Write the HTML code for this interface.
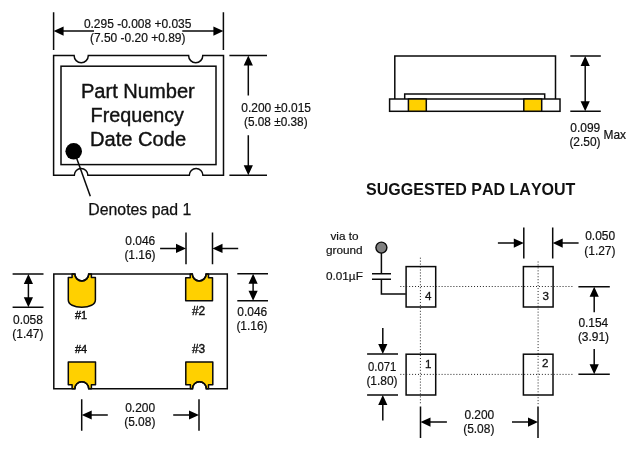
<!DOCTYPE html>
<html>
<head>
<meta charset="utf-8">
<title>Package drawing</title>
<style>
html,body{margin:0;padding:0;background:#fff;}
body{width:636px;height:449px;overflow:hidden;}
text{font-kerning:none;}
svg{display:block;font-family:"Liberation Sans",sans-serif;will-change:transform;}
.l{stroke:#0a0a0a;stroke-width:1.5;fill:none;}
.a{fill:#000;stroke:none;}
.d{stroke:#1a1a1a;stroke-width:0.95;fill:none;stroke-dasharray:1 1.95;}
.t{font-size:11.95px;fill:#111;stroke:#111;stroke-width:0.2;}
.b{font-size:19.6px;fill:#111;stroke:#111;stroke-width:0.4;}
.h{font-size:11px;fill:#111;stroke:#111;stroke-width:0.4;}
.n{font-size:11.6px;fill:#111;stroke:#111;stroke-width:0.3;}
.v{font-size:11.75px;fill:#111;stroke:#111;stroke-width:0.2;}
.pad{fill:#ffd000;stroke:#0a0a0a;stroke-width:1.5;stroke-linejoin:round;}
</style>
</head>
<body>
<svg width="636" height="449" viewBox="0 0 636 449">
<rect x="0" y="0" width="636" height="449" fill="#fff"/>

<!-- ===== TOP VIEW (top-left) ===== -->
<g id="topview">
  <!-- width dimension -->
  <path class="l" d="M53.6 12.3V49.9M223.4 12.3V49.9"/>
  <path class="l" d="M62 31.1H94M182.3 31.1H215"/>
  <path class="a" d="M53.6 31.1L63.6 26.5V35.7ZM223.4 31.1L213.4 26.5V35.7Z"/>
  <text class="t" x="83.9" y="28" textLength="107.5" lengthAdjust="spacingAndGlyphs">0.295 -0.008 +0.035</text>
  <text class="t" x="89.9" y="42.1" textLength="95.6" lengthAdjust="spacingAndGlyphs">(7.50 -0.20 +0.89)</text>
  <!-- outer outline with notches -->
  <path class="l" d="M53.6 55.6H74.1A7.1 7.1 0 0 0 88.3 55.6H188.6A7.1 7.1 0 0 0 202.8 55.6H223.5V175.3H202.9A6.8 6.8 0 0 0 189.3 175.3H87.9A6.8 6.8 0 0 0 74.3 175.3H53.6Z"/>
  <!-- inner rect -->
  <rect class="l" x="61" y="66.2" width="155" height="98.4"/>
  <!-- text -->
  <text class="b" x="80.9" y="98" textLength="113.9" lengthAdjust="spacingAndGlyphs">Part Number</text>
  <text class="b" x="90.6" y="122.4" textLength="93.4" lengthAdjust="spacingAndGlyphs">Frequency</text>
  <text class="b" x="90" y="145.7" textLength="96.2" lengthAdjust="spacingAndGlyphs">Date Code</text>
  <!-- dot + leader -->
  <path class="l" d="M75.5 155L90.3 196.2"/>
  <circle cx="73.7" cy="151.3" r="8.3" fill="#000"/>
  <text x="88.3" y="215" font-size="15.7" fill="#111" stroke="#111" stroke-width="0.25" textLength="103" lengthAdjust="spacingAndGlyphs">Denotes pad 1</text>
  <!-- height dimension -->
  <path class="l" d="M229.4 55.5H267M229.4 175.3H267"/>
  <path class="l" d="M248.3 64V95.6M248.3 135.3V167"/>
  <path class="a" d="M248.3 55.5L243.7 65.5H252.9ZM248.3 175.3L243.7 165.3H252.9Z"/>
  <text class="t" x="241.3" y="112.2">0.200 ±0.015</text>
  <text class="t" x="244" y="126.3" textLength="63.6" lengthAdjust="spacingAndGlyphs">(5.08 ±0.38)</text>
</g>

<!-- ===== SIDE VIEW (top-right) ===== -->
<g id="sideview" transform="translate(0,0.4)">
  <path class="l" d="M394.8 98.6V55.6H555.5V98.6"/>
  <path class="l" d="M404.7 98.6V93.6H544.7V98.6"/>
  <rect class="l" x="389.6" y="98.6" width="170.4" height="12.3" fill="#fff"/>
  <rect class="pad" x="408.4" y="98.6" width="17.9" height="12.3"/>
  <rect class="pad" x="523.8" y="98.6" width="17.9" height="12.3"/>
  <path class="l" d="M570.3 55.6H600.8M570.3 110.9H600.8"/>
  <path class="l" d="M585.2 64V102"/>
  <path class="a" d="M585.2 55.6L580.6 65.6H589.8ZM585.2 110.9L580.6 100.9H589.8Z"/>
  <text class="t" x="570.3" y="131.4">0.099</text>
  <text class="t" x="569.4" y="145.3">(2.50)</text>
  <text class="t" x="603.5" y="138.2">Max</text>
</g>

<text x="366.1" y="195.3" font-size="16.05" font-weight="bold" fill="#111" style="font-kerning:none">SUGGESTED PAD LAYOUT</text>

<!-- ===== BOTTOM VIEW (bottom-left) ===== -->
<g id="bottomview" transform="translate(0,0.4)">
  <!-- pads -->
  <path class="pad" d="M72.1 273.6V277.2H68.3V299.5C68.3 304 74 306.8 81.8 306.8C89.6 306.8 95.4 304 95.4 299.5V277.2H91.4V273.6H88.7A6.9 6.9 0 0 1 74.9 273.6Z"/>
  <path class="pad" d="M190.2 273.6V277.3H185.7V300.3H212.5V277.3H208.5V273.6H206.1A6.9 6.9 0 0 1 192.3 273.6Z"/>
  <path class="pad" d="M72.1 388.3V384.4H68.3V361.7H95.5V384.4H91.4V388.3H88.7A6.9 6.9 0 0 0 74.9 388.3Z"/>
  <path class="pad" d="M190.4 388.3V384.4H185.8V361.7H212.8V384.4H208.5V388.3H206.3A6.9 6.9 0 0 0 192.5 388.3Z"/>
  <!-- outline with notches -->
  <path class="l" d="M53.8 273.6H74.9A6.9 6.9 0 0 0 88.7 273.6H192.3A6.9 6.9 0 0 0 206.1 273.6H227.3V388.3H206.3A6.9 6.9 0 0 0 192.5 388.3H88.7A6.9 6.9 0 0 0 74.9 388.3H53.8Z"/>
  <text class="h" x="75" y="318.9">#1</text>
  <text class="h" x="192" y="315" style="font-size:11.9px">#2</text>
  <text class="h" x="74.9" y="353.1">#4</text>
  <text class="h" x="192" y="352.8" style="font-size:11.9px">#3</text>
  <!-- left dim 0.058 -->
  <path class="l" d="M12.6 273.6H43.5M12.6 306.8H43.5"/>
  <path class="l" d="M28.4 282V298"/>
  <path class="a" d="M28.4 273.6L23.8 283.6H33.0ZM28.4 306.8L23.8 296.8H33.0Z"/>
  <text class="t" x="13" y="323.6">0.058</text>
  <text class="t" x="12.3" y="337.4">(1.47)</text>
  <!-- top dim 0.046 -->
  <path class="l" d="M186 232.2V263.8M212.5 232.2V263.8"/>
  <path class="l" d="M160.1 248H178M221 248H238.2"/>
  <path class="a" d="M186.0 248.0L176.0 243.4V252.6ZM212.5 248.0L222.5 243.4V252.6Z"/>
  <text class="t" x="125.3" y="244.5">0.046</text>
  <text class="t" x="124.4" y="258.6">(1.16)</text>
  <!-- right dim 0.046 -->
  <path class="l" d="M237.3 273.4H268M237.3 300.3H268"/>
  <path class="l" d="M253.1 282V292"/>
  <path class="a" d="M253.1 273.4L248.5 283.4H257.7ZM253.1 300.3L248.5 290.3H257.7Z"/>
  <text class="t" x="237.3" y="315.6">0.046</text>
  <text class="t" x="236.4" y="329.7">(1.16)</text>
  <!-- bottom dim 0.200 -->
  <path class="l" d="M81.7 398.9V430.3M199 398.9V430.3"/>
  <path class="l" d="M90 414.6H107.8M173.2 414.6H191"/>
  <path class="a" d="M81.7 414.6L91.7 410.0V419.2ZM199.0 414.6L189.0 410.0V419.2Z"/>
  <text class="t" x="125.2" y="411.8">0.200</text>
  <text class="t" x="124.2" y="425.9">(5.08)</text>
</g>

<!-- ===== PAD LAYOUT (bottom-right) ===== -->
<g id="padlayout">
  <text class="v" x="330.4" y="239.6">via to</text>
  <text class="v" x="326" y="253.9">ground</text>
  <text class="v" x="326" y="279.8">0.01µF</text>
  <path class="l" d="M381.4 252V273.8M372 273.8H391M372 279.3H391M381.4 279.3V294.1H405.8"/>
  <circle cx="381.4" cy="247.6" r="5.5" fill="#808080" stroke="#0a0a0a" stroke-width="1.4"/>
  <!-- pads -->
  <rect class="l" x="406.1" y="266.6" width="29.6" height="40.4"/>
  <rect class="l" x="523.4" y="266.6" width="29.7" height="40.4"/>
  <rect class="l" x="406.1" y="354.2" width="29.6" height="40.8"/>
  <rect class="l" x="523.4" y="354.2" width="29.6" height="40.8"/>
  <text class="n" x="424.9" y="299.8">4</text>
  <text class="n" x="542.4" y="299.6">3</text>
  <text class="n" x="425" y="367.7">1</text>
  <text class="n" x="542" y="367.4">2</text>
  <!-- dotted centre lines -->
  <path class="d" d="M420.4 257.7V405M538.1 261.5V405M400.3 286.5H574.1M400.3 374.4H574.1"/>
  <!-- top dim 0.050 -->
  <path class="l" d="M523.8 227.4V258.4M552.7 227.4V258.4"/>
  <path class="l" d="M497.9 243.1H516M560 243.1H578.6"/>
  <path class="a" d="M523.8 243.1L513.8 238.5V247.7ZM552.7 243.1L562.7 238.5V247.7Z"/>
  <text class="t" x="585.2" y="240.1">0.050</text>
  <text class="t" x="584.3" y="254.7">(1.27)</text>
  <!-- right dim 0.154 -->
  <path class="l" d="M578.4 286.7H609.8M578.4 374.3H609.8"/>
  <path class="l" d="M594.2 295V312.2M594.2 349.1V366"/>
  <path class="a" d="M594.2 286.7L589.6 296.7H598.8ZM594.2 374.3L589.6 364.3H598.8Z"/>
  <text class="t" x="578.4" y="327">0.154</text>
  <text class="t" x="577.9" y="341">(3.91)</text>
  <!-- left dim 0.071 -->
  <path class="l" d="M367.1 354.1H398M367.1 395H398"/>
  <path class="l" d="M382.8 328.1V346M382.8 402V420.6"/>
  <path class="a" d="M382.8 354.1L378.2 344.1H387.4ZM382.8 395.0L378.2 405.0H387.4Z"/>
  <text class="t" x="368" y="371.1" textLength="28.2" lengthAdjust="spacingAndGlyphs">0.071</text>
  <text class="t" x="366.4" y="385.4">(1.80)</text>
  <!-- bottom dim 0.200 -->
  <path class="l" d="M420.5 406.5V437.9M538 406.5V437.9"/>
  <path class="l" d="M429 422.1H446.9M512 422.1H530"/>
  <path class="a" d="M420.5 422.1L430.5 417.5V426.7ZM538.0 422.1L528.0 417.5V426.7Z"/>
  <text class="t" x="464.4" y="419">0.200</text>
  <text class="t" x="463.2" y="433.3">(5.08)</text>
</g>
</svg>
</body>
</html>
